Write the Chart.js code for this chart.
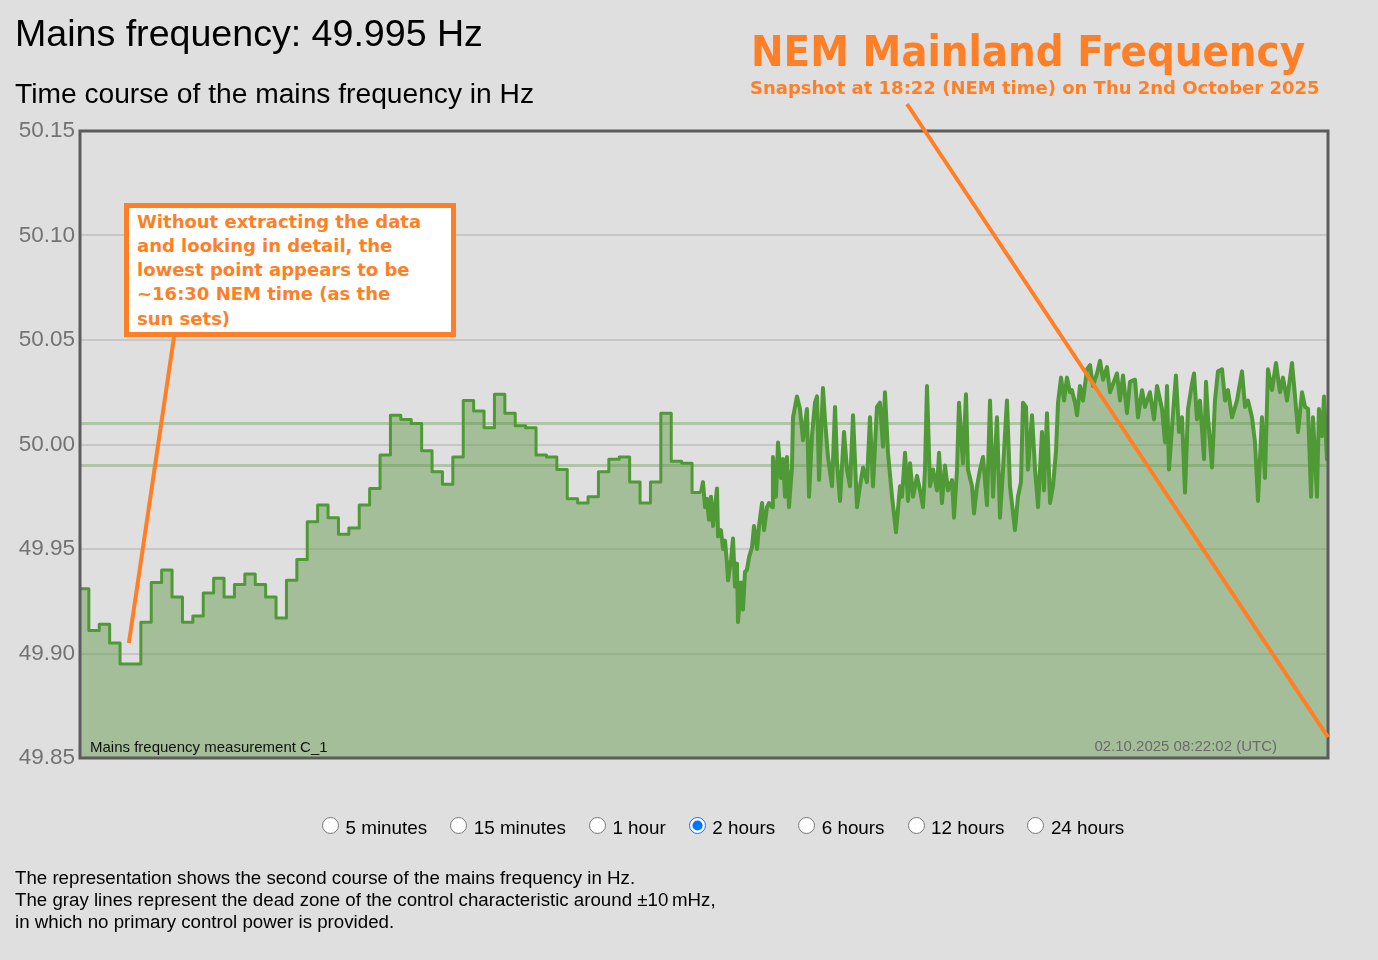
<!DOCTYPE html>
<html>
<head>
<meta charset="utf-8">
<title>Mains frequency</title>
<script src="https://cdn.jsdelivr.net/npm/chart.js@4.4.1/dist/chart.umd.min.js"></script>
<style>
  html, body { margin:0; padding:0; width:1378px; height:960px; overflow:hidden; background:#dfdfdf;
    font-family:'Liberation Sans', Arial, sans-serif; }
  #wrap { position:absolute; left:0; top:0; width:1378px; height:960px; }
  .abs { position:absolute; white-space:nowrap; }
  #h1 { left:15px; top:14.5px; font-size:37.6px; line-height:37.6px; color:#000; }
  #h2 { left:15px; top:78.5px; font-size:28.2px; line-height:28.2px; color:#000; }
  #meas { left:90px; top:739px; font-size:15px; line-height:15px; color:#111; }
  #stamp { right:101px; top:738px; font-size:15px; line-height:15px; color:#6a6a6a; }
  #notes { left:15px; top:867px; font-size:18.7px; line-height:22px; color:#000; }
  #radios { left:322px; top:817px; display:flex; gap:23px; font-size:18.85px; line-height:22px; color:#000; }
  .opt { display:flex; align-items:flex-start; }
  .opt input { width:17px; height:17px; margin:-0.5px 6.5px 0 0; padding:0; }
  .nem { font-family:'DejaVu Sans', Verdana, sans-serif; font-weight:bold; color:#ff7f27; transform-origin:0 0; }
  #nemTitle { left:751px; top:30px; font-size:43px; line-height:43px; }
  #nemSub { left:750px; top:79px; font-size:18px; line-height:18px; }
  #note { left:124px; top:203px; width:314px; height:122px; background:#fff; border:5px solid #ff7f27;
    padding:1.5px 0 0 8px; box-sizing:content-box; font-size:18px; line-height:24.3px; white-space:nowrap; }
</style>
</head>
<body>
<div id="wrap"><canvas id="c" width="1378" height="960"></canvas></div>

<div class="abs" id="h1">Mains frequency: 49.995 Hz</div>
<div class="abs" id="h2">Time course of the mains frequency in Hz</div>
<div class="abs" id="meas">Mains frequency measurement C_1</div>
<div class="abs" id="stamp">02.10.2025 08:22:02 (UTC)</div>
<div class="abs" id="radios"></div>
<div class="abs" id="notes">The representation shows the second course of the mains frequency in Hz.<br>The gray lines represent the dead zone of the control characteristic around ±10&#8239;mHz,<br>in which no primary control power is provided.</div>

<div class="abs nem" id="nemTitle">NEM Mainland Frequency</div>
<div class="abs nem" id="nemSub">Snapshot at 18:22 (NEM time) on Thu 2nd October 2025</div>
<div class="abs nem" id="note">Without extracting the data<br>and looking in detail, the<br>lowest point appears to be<br>~16:30 NEM time (as the<br>sun sets)</div>

<script>
// ---------- DATA ----------
// y axis
const yTickValues = [49.85, 49.90, 49.95, 50.00, 50.05, 50.10, 50.15];
const yMin = 49.85, yMax = 50.15;
// x axis: minutes within the 2 hour window
const xMinMin = 0, xMaxMin = 120;
// dead zone of the control characteristic (±10 mHz)
const deadZoneHz = [49.99, 50.01];

// first hour: one-minute values (stepped); first step ends at 0.85 min, then every minute
const firstStepEndMin = 0.85;
const minuteHz = [
  49.931, 49.911, 49.914, 49.905, 49.895, 49.895, 49.915, 49.934, 49.940, 49.927,
  49.915, 49.918, 49.929, 49.936, 49.927, 49.933, 49.938, 49.933, 49.927, 49.917,
  49.935, 49.945, 49.963, 49.971, 49.965, 49.957, 49.960, 49.971, 49.979, 49.995,
  50.014, 50.012, 50.010, 49.997, 49.987, 49.981, 49.994, 50.021, 50.016, 50.008,
  50.024, 50.015, 50.009, 50.008, 49.995, 49.994, 49.988, 49.974, 49.972, 49.975,
  49.987, 49.993, 49.994, 49.982, 49.972, 49.982, 50.015, 49.992, 49.991, 49.977
];

// second hour: second-resolution trace (sampled)
const noiseMin = [
  59.71,59.90,60.10,60.29,60.48,60.67,60.87,61.06,61.25,61.35,
  61.63,61.83,62.02,62.21,62.31,62.60,62.79,62.98,63.17,63.27,
  63.56,63.75,63.94,64.13,64.33,64.62,64.81,65.10,65.29,65.58,
  65.77,66.06,66.25,66.54,66.63,66.92,67.12,67.40,67.60,67.79,
  67.98,68.17,68.46,68.56,68.94,69.23,69.52,69.90,70.10,70.38,
  70.67,70.87,71.06,71.44,71.63,71.92,72.31,72.60,72.79,73.08,
  73.46,73.75,74.04,74.33,74.71,75.00,75.29,75.67,75.96,76.25,
  76.63,76.92,77.21,77.40,77.69,78.08,78.46,78.85,79.04,79.33,
  79.62,79.81,80.10,80.48,80.77,81.06,81.25,81.44,81.73,82.02,
  82.40,82.60,82.88,83.17,83.46,83.85,84.04,84.33,84.52,84.90,
  85.19,85.38,85.77,85.96,86.25,86.54,86.83,87.21,87.50,87.79,
  88.17,88.46,88.75,89.13,89.42,89.90,90.19,90.48,90.67,90.96,
  91.15,91.54,91.83,92.12,92.50,92.69,92.98,93.27,93.56,93.85,
  94.04,94.33,94.62,94.90,95.19,95.38,95.67,95.87,96.15,96.44,
  96.83,97.12,97.40,97.79,98.08,98.37,98.75,99.04,99.33,99.71,
  100.00,100.29,100.67,100.96,101.44,101.73,102.12,102.40,102.88,103.27,
  103.56,104.04,104.33,104.52,104.71,105.10,105.38,105.67,105.96,106.25,
  106.54,106.92,107.12,107.40,107.69,108.08,108.27,108.46,108.85,109.13,
  109.42,109.81,110.10,110.38,110.77,111.25,111.73,112.02,112.31,112.69,
  112.98,113.27,113.65,113.94,114.23,114.62,115.00,115.38,115.67,116.06,
  116.54,116.83,117.12,117.50,117.79,118.08,118.37,118.56,118.94,119.13,
  119.42,119.62,119.90,120.00
];
const noiseHz = [
  49.977,49.982,49.970,49.974,49.964,49.975,49.961,49.970,49.979,49.956,
  49.959,49.950,49.954,49.943,49.935,49.945,49.955,49.932,49.943,49.915,
  49.934,49.921,49.939,49.940,49.946,49.951,49.961,49.950,49.961,49.972,
  49.959,49.970,49.972,49.970,49.994,49.975,50.001,49.984,49.993,49.975,
  49.994,49.970,49.989,50.013,50.023,50.017,50.002,50.017,49.975,50.004,
  50.020,50.023,49.983,50.027,50.012,49.994,49.980,50.018,49.991,49.973,
  50.006,49.988,49.980,50.014,49.970,49.980,49.989,49.982,50.013,49.980,
  50.018,50.020,49.999,50.025,49.996,49.975,49.958,49.980,49.975,49.996,
  49.973,49.991,49.975,49.985,49.978,49.970,49.988,50.028,49.980,49.988,
  49.978,49.996,49.972,49.990,49.978,49.983,49.965,49.988,50.020,49.991,
  50.024,49.988,49.980,49.967,49.980,49.988,49.994,49.971,50.021,49.975,
  50.013,49.965,49.988,50.021,49.980,49.959,49.975,49.982,50.020,50.018,
  49.988,50.014,49.988,49.970,50.006,49.978,50.015,49.972,49.980,49.997,
  50.020,50.032,50.021,50.032,50.025,50.026,50.020,50.014,50.028,50.021,
  50.036,50.038,50.028,50.034,50.040,50.031,50.037,50.025,50.029,50.034,
  50.021,50.033,50.015,50.030,50.031,50.013,50.026,50.018,50.025,50.012,
  50.028,50.017,50.001,50.028,49.988,50.015,50.033,50.006,50.013,49.977,
  50.017,50.029,50.034,50.012,50.021,49.993,50.030,50.013,49.989,50.021,
  50.035,50.036,50.021,50.026,50.013,50.021,50.035,50.018,50.021,50.013,
  50.001,49.973,50.013,49.984,50.036,50.026,50.039,50.025,50.032,50.021,
  50.039,50.023,50.006,50.025,50.018,50.017,49.975,50.013,49.975,50.017,
  50.004,50.023,49.993,50.002
];

// annotation targets (in data units)
const lowPointMin = 4.7, lowPointHz = 49.905;
const snapshotArrowMin = 120, snapshotArrowHz = 49.860;

// radio options
const rangeLabels = ['5 minutes', '15 minutes', '1 hour', '2 hours', '6 hours', '12 hours', '24 hours'];
const rangeChecked = '2 hours';

// ---------- BUILD ----------
const radios = document.getElementById('radios');
rangeLabels.forEach(l => {
  const s = document.createElement('label');
  s.className = 'opt';
  const i = document.createElement('input');
  i.type = 'radio'; i.name = 'range'; i.checked = (l === rangeChecked);
  s.appendChild(i);
  s.appendChild(document.createTextNode(l));
  radios.appendChild(s);
});

function fitWidth(id, w) {
  const el = document.getElementById(id);
  const nat = el.getBoundingClientRect().width;
  el.style.transform = 'scaleX(' + (w / nat) + ')';
}
fitWidth('nemTitle', 554);

// points: stepped minute values expanded into corners, then the second trace
const points = [];
const stepEdges = [xMinMin];
for (let i = 0; i < minuteHz.length - 1; i++) stepEdges.push(firstStepEndMin + i);
stepEdges.push(noiseMin[0]);
minuteHz.forEach((v, i) => {
  points.push({x: stepEdges[i], y: v});
  points.push({x: stepEdges[i + 1], y: v});
});
noiseMin.forEach((t, i) => points.push({x: t, y: noiseHz[i]}));

const overlay = {
  id: 'overlay',
  beforeDatasetsDraw(ch) {
    const {ctx, chartArea: a, scales: {y}} = ch;
    ctx.save();
    ctx.strokeStyle = 'rgba(120,165,100,0.45)';
    ctx.lineWidth = 3;
    deadZoneHz.forEach(v => {
      const py = y.getPixelForValue(v);
      ctx.beginPath(); ctx.moveTo(a.left, py); ctx.lineTo(a.right, py); ctx.stroke();
    });
    ctx.restore();
  },
  afterDatasetsDraw(ch) {
    const {ctx, chartArea: a} = ch;
    ctx.save();
    ctx.strokeStyle = '#5c5c5c';
    ctx.lineWidth = 3;
    ctx.strokeRect(a.left, a.top, a.right - a.left, a.bottom - a.top);
    ctx.restore();
  },
  afterDraw(ch) {
    const {ctx, scales: {x, y}} = ch;
    ctx.save();
    ctx.strokeStyle = '#ff7f27';
    ctx.lineWidth = 4;
    ctx.beginPath();
    ctx.moveTo(174, 337);
    ctx.lineTo(x.getPixelForValue(lowPointMin), y.getPixelForValue(lowPointHz));
    ctx.stroke();
    ctx.beginPath();
    ctx.moveTo(907, 104);
    ctx.lineTo(x.getPixelForValue(snapshotArrowMin), y.getPixelForValue(snapshotArrowHz));
    ctx.stroke();
    ctx.restore();
  }
};

new Chart(document.getElementById('c'), {
  type: 'line',
  data: {
    datasets: [{
      data: points,
      borderColor: '#4f9a36',
      borderWidth: 3,
      backgroundColor: 'rgba(95,151,71,0.45)',
      fill: 'start',
      pointRadius: 0,
      tension: 0,
      borderJoinStyle: 'round',
      segment: {
        borderWidth: c => (c.p0.parsed.x >= noiseMin[0] ? 4 : 3)
      }
    }]
  },
  options: {
    responsive: false,
    animation: false,
    devicePixelRatio: 1,
    layout: { padding: { left: 0, top: 131, right: 50, bottom: 202 } },
    plugins: { legend: { display: false }, tooltip: { enabled: false } },
    scales: {
      x: { type: 'linear', min: xMinMin, max: xMaxMin, display: false },
      y: {
        min: yMin, max: yMax,
        afterFit(s) { s.width = 80; },
        afterBuildTicks(s) { s.ticks = yTickValues.map(v => ({ value: v })); },
        border: { display: false },
        grid: { color: '#c6c6c6', lineWidth: 2, drawTicks: false },
        ticks: {
          padding: 5, color: '#737373',
          font: { family: "'Liberation Sans', Arial, sans-serif", size: 22.5 },
          callback: v => Number(v).toFixed(2)
        }
      }
    }
  },
  plugins: [overlay]
});
</script>
</body>
</html>
